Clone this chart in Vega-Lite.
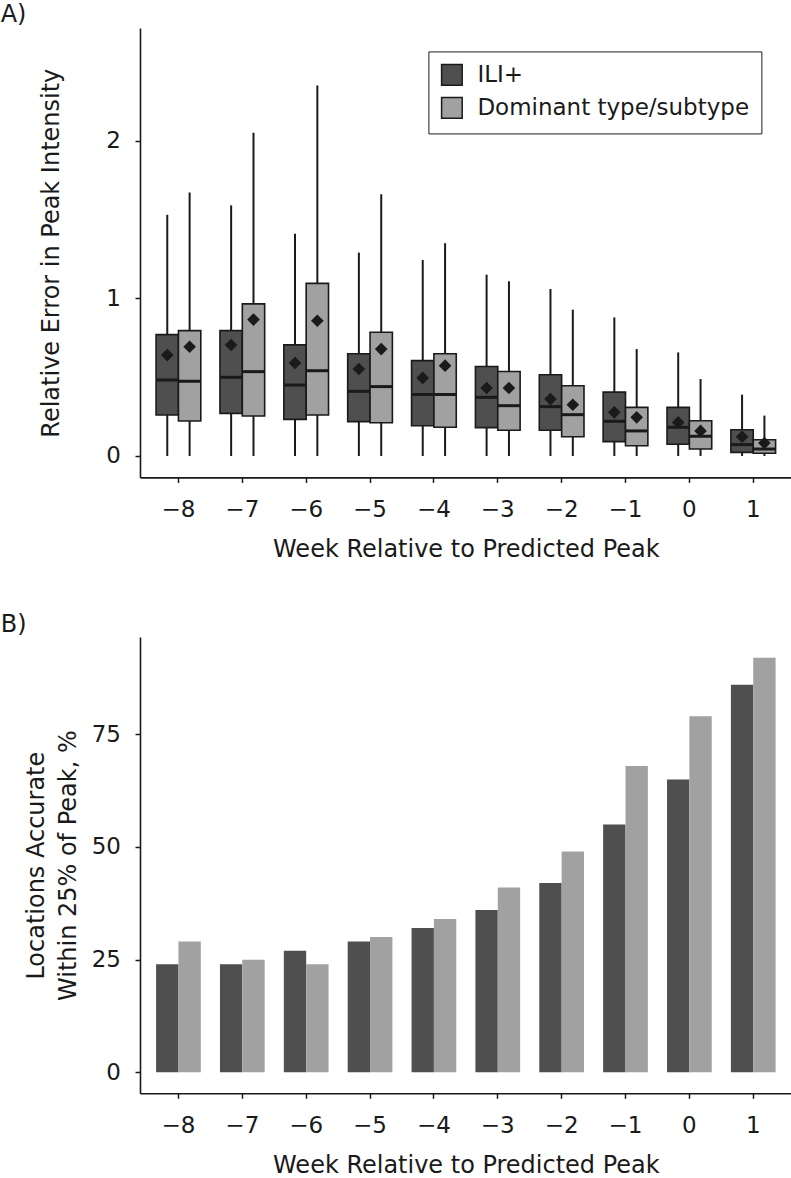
{
  "$schema": "https://vega.github.io/schema/vega-lite/v6.json",
  "background": "white",
  "padding": {"left": 0, "top": 3, "right": 0, "bottom": 0},
  "config": {
    "view": {"stroke": null},
    "font": "DejaVu Sans",
    "axis": {
      "domainColor": "#1a1a1a", "domainWidth": 1.6, "tickColor": "#1a1a1a", "tickWidth": 1.5, "tickSize": 5,
      "labelFont": "DejaVu Sans", "labelFontSize": 23, "labelColor": "#1a1a1a",
      "titleFont": "DejaVu Sans", "titleFontSize": 24, "titleFontWeight": "normal", "titleColor": "#1a1a1a", "grid": false
    },
    "title": {"font": "DejaVu Sans", "fontSize": 24, "fontWeight": "normal", "color": "#1a1a1a", "anchor": "start", "frame": "group"}
  },
  "datasets": {
    "box": [
      {"week": "−8", "series": "ILI+", "lo": 0, "q1": 0.26, "med": 0.482, "q3": 0.77, "hi": 1.53, "mean": 0.64},
      {"week": "−8", "series": "Dominant type/subtype", "lo": 0, "q1": 0.222, "med": 0.474, "q3": 0.795, "hi": 1.672, "mean": 0.693},
      {"week": "−7", "series": "ILI+", "lo": 0, "q1": 0.27, "med": 0.499, "q3": 0.795, "hi": 1.59, "mean": 0.704},
      {"week": "−7", "series": "Dominant type/subtype", "lo": 0, "q1": 0.254, "med": 0.535, "q3": 0.965, "hi": 2.05, "mean": 0.865},
      {"week": "−6", "series": "ILI+", "lo": 0, "q1": 0.232, "med": 0.45, "q3": 0.705, "hi": 1.41, "mean": 0.59},
      {"week": "−6", "series": "Dominant type/subtype", "lo": 0, "q1": 0.26, "med": 0.541, "q3": 1.095, "hi": 2.35, "mean": 0.858},
      {"week": "−5", "series": "ILI+", "lo": 0, "q1": 0.218, "med": 0.41, "q3": 0.648, "hi": 1.29, "mean": 0.552},
      {"week": "−5", "series": "Dominant type/subtype", "lo": 0, "q1": 0.211, "med": 0.44, "q3": 0.785, "hi": 1.66, "mean": 0.678},
      {"week": "−4", "series": "ILI+", "lo": 0, "q1": 0.192, "med": 0.39, "q3": 0.605, "hi": 1.243, "mean": 0.495},
      {"week": "−4", "series": "Dominant type/subtype", "lo": 0, "q1": 0.182, "med": 0.39, "q3": 0.648, "hi": 1.35, "mean": 0.573},
      {"week": "−3", "series": "ILI+", "lo": 0, "q1": 0.18, "med": 0.372, "q3": 0.568, "hi": 1.15, "mean": 0.431},
      {"week": "−3", "series": "Dominant type/subtype", "lo": 0, "q1": 0.163, "med": 0.319, "q3": 0.536, "hi": 1.108, "mean": 0.431},
      {"week": "−2", "series": "ILI+", "lo": 0, "q1": 0.163, "med": 0.313, "q3": 0.515, "hi": 1.059, "mean": 0.361},
      {"week": "−2", "series": "Dominant type/subtype", "lo": 0, "q1": 0.122, "med": 0.262, "q3": 0.445, "hi": 0.928, "mean": 0.325},
      {"week": "−1", "series": "ILI+", "lo": 0, "q1": 0.091, "med": 0.22, "q3": 0.405, "hi": 0.879, "mean": 0.277},
      {"week": "−1", "series": "Dominant type/subtype", "lo": 0, "q1": 0.065, "med": 0.159, "q3": 0.308, "hi": 0.678, "mean": 0.245},
      {"week": "0", "series": "ILI+", "lo": 0, "q1": 0.074, "med": 0.182, "q3": 0.308, "hi": 0.657, "mean": 0.213},
      {"week": "0", "series": "Dominant type/subtype", "lo": 0, "q1": 0.044, "med": 0.125, "q3": 0.223, "hi": 0.488, "mean": 0.159},
      {"week": "1", "series": "ILI+", "lo": 0, "q1": 0.023, "med": 0.072, "q3": 0.166, "hi": 0.389, "mean": 0.122},
      {"week": "1", "series": "Dominant type/subtype", "lo": 0, "q1": 0.017, "med": 0.044, "q3": 0.103, "hi": 0.256, "mean": 0.082}
    ],
    "bars": [
      {"week": "−8", "series": "ILI+", "pct": 24},
      {"week": "−8", "series": "Dominant type/subtype", "pct": 29},
      {"week": "−7", "series": "ILI+", "pct": 24},
      {"week": "−7", "series": "Dominant type/subtype", "pct": 25},
      {"week": "−6", "series": "ILI+", "pct": 27},
      {"week": "−6", "series": "Dominant type/subtype", "pct": 24},
      {"week": "−5", "series": "ILI+", "pct": 29},
      {"week": "−5", "series": "Dominant type/subtype", "pct": 30},
      {"week": "−4", "series": "ILI+", "pct": 32},
      {"week": "−4", "series": "Dominant type/subtype", "pct": 34},
      {"week": "−3", "series": "ILI+", "pct": 36},
      {"week": "−3", "series": "Dominant type/subtype", "pct": 41},
      {"week": "−2", "series": "ILI+", "pct": 42},
      {"week": "−2", "series": "Dominant type/subtype", "pct": 49},
      {"week": "−1", "series": "ILI+", "pct": 55},
      {"week": "−1", "series": "Dominant type/subtype", "pct": 68},
      {"week": "0", "series": "ILI+", "pct": 65},
      {"week": "0", "series": "Dominant type/subtype", "pct": 79},
      {"week": "1", "series": "ILI+", "pct": 86},
      {"week": "1", "series": "Dominant type/subtype", "pct": 92}
    ]
  },
  "spacing": 51,
  "resolve": {"legend": {"color": "independent"}},
  "vconcat": [
    {
      "width": 651.7,
      "height": 449.4,
      "title": {"text": "A)", "dx": -139.3, "offset": -18, "baseline": "alphabetic"},
      "data": {"name": "box"},
      "encoding": {
        "x": {
          "field": "week", "type": "ordinal",
          "sort": ["−8", "−7", "−6", "−5", "−4", "−3", "−2", "−1", "0", "1"],
          "scale": {"paddingInner": 0.3, "paddingOuter": 0.252},
          "axis": {"title": "Week Relative to Predicted Peak", "labelAngle": 0, "labelPadding": 16, "titlePadding": 16,
                   "labelExpr": "indexof(datum.value, '−') >= 0 ? datum.value + ' ' : datum.value"}
        },
        "xOffset": {
          "field": "series", "type": "nominal", "sort": ["ILI+", "Dominant type/subtype"],
          "scale": {"paddingInner": 0, "paddingOuter": 0}
        }
      },
      "layer": [
        {
          "mark": {"type": "rule", "color": "#1a1a1a", "strokeWidth": 2, "opacity": 1},
          "encoding": {
            "y": {"field": "lo", "type": "quantitative", "title": "Relative Error in Peak Intensity",
                  "scale": {"domain": [-0.136, 2.715], "nice": false, "zero": false},
                  "axis": {"values": [0, 1, 2], "format": "d", "labelPadding": 14.5, "titleX": -81.8, "titleBaseline": "alphabetic"}},
            "y2": {"field": "hi"}
          }
        },
        {
          "mark": {"type": "rect", "stroke": "#1a1a1a", "strokeWidth": 1.6, "opacity": 1},
          "encoding": {
            "y": {"field": "q1", "type": "quantitative", "title": "Relative Error in Peak Intensity"},
            "y2": {"field": "q3"},
            "color": {
              "field": "series", "type": "nominal",
              "scale": {"domain": ["ILI+", "Dominant type/subtype"], "range": ["#4f4f4f", "#a1a1a1"]},
              "legend": {
                "title": null, "orient": "none", "legendX": 288.4, "legendY": 23.4,
                "symbolType": "square", "symbolSize": 424, "symbolStrokeColor": "#1a1a1a", "symbolStrokeWidth": 1.5,
                "symbolOpacity": 1, "labelLimit": 0,
                "labelFont": "DejaVu Sans", "labelFontSize": 23, "labelColor": "#1a1a1a", "labelOffset": 14,
                "rowPadding": 6, "padding": 12, "strokeColor": "#1a1a1a", "fillColor": "white", "cornerRadius": 0
              }
            }
          }
        },
        {
          "mark": {"type": "tick", "orient": "horizontal", "color": "#1a1a1a", "thickness": 3, "size": 22, "opacity": 1},
          "encoding": {"y": {"field": "med", "type": "quantitative", "title": "Relative Error in Peak Intensity"}}
        },
        {
          "mark": {"type": "point", "shape": "diamond", "filled": true, "color": "#1a1a1a", "size": 160, "opacity": 1},
          "encoding": {"y": {"field": "mean", "type": "quantitative", "title": "Relative Error in Peak Intensity"}}
        }
      ]
    },
    {
      "width": 651.7,
      "height": 456.3,
      "title": {"text": "B)", "dx": -139.3, "offset": -19, "baseline": "alphabetic"},
      "data": {"name": "bars"},
      "mark": {"type": "bar", "opacity": 1},
      "encoding": {
        "x": {
          "field": "week", "type": "ordinal",
          "sort": ["−8", "−7", "−6", "−5", "−4", "−3", "−2", "−1", "0", "1"],
          "scale": {"paddingInner": 0.3, "paddingOuter": 0.252},
          "axis": {"title": "Week Relative to Predicted Peak", "labelAngle": 0, "labelPadding": 16, "titlePadding": 16,
                   "labelExpr": "indexof(datum.value, '−') >= 0 ? datum.value + ' ' : datum.value"}
        },
        "xOffset": {
          "field": "series", "type": "nominal", "sort": ["ILI+", "Dominant type/subtype"],
          "scale": {"paddingInner": 0, "paddingOuter": 0}
        },
        "y": {
          "field": "pct", "type": "quantitative", "stack": null,
          "title": ["Locations Accurate", "Within 25% of Peak, %"],
          "scale": {"domain": [-4.66, 96.6], "nice": false, "zero": false},
          "axis": {"values": [0, 25, 50, 75], "labelPadding": 14.5, "titleX": -96.8, "titleBaseline": "alphabetic", "titleLineHeight": 32}
        },
        "color": {
          "field": "series", "type": "nominal",
          "scale": {"domain": ["ILI+", "Dominant type/subtype"], "range": ["#4f4f4f", "#a1a1a1"]},
          "legend": null
        }
      }
    }
  ]
}
